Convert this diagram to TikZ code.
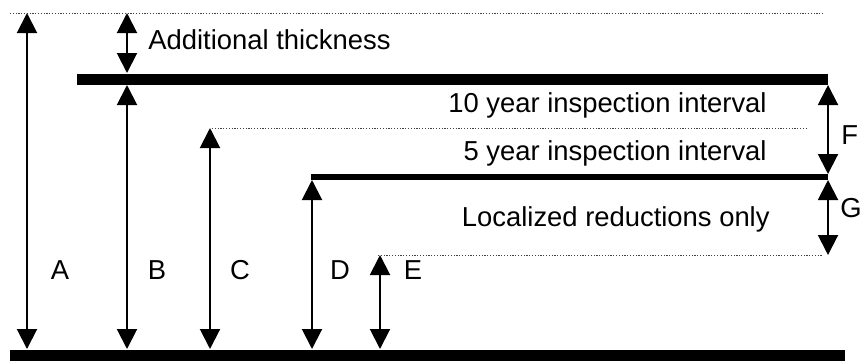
\documentclass[tikz,border=0pt]{standalone}
\usepackage{fontspec}
\setmainfont{Liberation Sans}
\usetikzlibrary{arrows.meta,positioning}

\begin{document}
\begin{tikzpicture}[
	x = 0.5pt, y = -0.5pt,
	> = {Triangle[length=10pt,width=10pt]},
	plate/.style = {line width=5.5pt},
	thinplate/.style = {line width=3pt},
	guide/.style = {line width=0.5pt, black!75, dash pattern=on 0.6pt off 0.8pt},
	dim/.style = {<->, line width=1pt},
	every node/.style = {font=\fontsize{13.7}{16}\selectfont, inner sep=0pt}
	]
	\useasboundingbox (0,0) rectangle (860,360);
	% levels
	\coordinate (topL)  at (10,13);   \coordinate (topR)  at (823,13);
	\coordinate (upL)   at (77,79);   \coordinate (upR)   at (828,79);
	\coordinate (tenL)  at (212,128); \coordinate (tenR)  at (808,128);
	\coordinate (fiveL) at (311,177); \coordinate (fiveR) at (828,177);
	\coordinate (locL)  at (378,255); \coordinate (locR)  at (823,255);
	\coordinate (botL)  at (10,355);  \coordinate (botR)  at (845,355);
	\draw[guide] (topL) -- (topR);
	\draw[guide] (tenL) -- (tenR);
	\draw[guide] (locL) -- (locR);
	\draw[plate] (upL) -- (upR);
	\draw[thinplate] (fiveL) -- (fiveR);
	\draw[plate] (botL) -- (botR);
	% dimension arrows
	\coordinate (A1) at (27,13);  \coordinate (A2) at (27,349);
	\coordinate (T1) at (127,13); \coordinate (T2) at (127,73);
	\coordinate (B1) at (127,85); \coordinate (B2) at (127,349);
	\coordinate (C1) at (210,128); \coordinate (C2) at (210,349);
	\coordinate (D1) at (312,180); \coordinate (D2) at (312,349);
	\coordinate (E1) at (380,255); \coordinate (E2) at (380,349);
	\coordinate (F1) at (828,85);  \coordinate (F2) at (828,174);
	\coordinate (G1) at (828,180); \coordinate (G2) at (828,255);
	\path[dim]
	(A1) edge (A2)
	(T1) edge (T2)
	(B1) edge (B2)
	(C1) edge (C2)
	(D1) edge (D2)
	(E1) edge (E2)
	(F1) edge (F2)
	(G1) edge (G2);
	% labels
	\node (lblA) [anchor=base] at (60,279)  {A};
	\node (lblB) [anchor=base] at (157,279) {B};
	\node (lblC) [anchor=base] at (240,279) {C};
	\node (lblD) [anchor=base] at (340,279) {D};
	\node (lblE) [anchor=base] at (413,279) {E};
	\node (lblF) [anchor=base west] at (841,144) {F};
	\node (lblG) [anchor=base west] at (840,217) {G};
	\node (addl) [anchor=base west] at (148,49)  {Additional thickness};
	\node (ten)  [anchor=base east] at (767,112) {10 year inspection interval};
	\node (five) [anchor=base east] at (767,160) {5 year inspection interval};
	\node (loc)  [anchor=base east] at (770,226) {Localized reductions only};
\end{tikzpicture}
\end{document}
